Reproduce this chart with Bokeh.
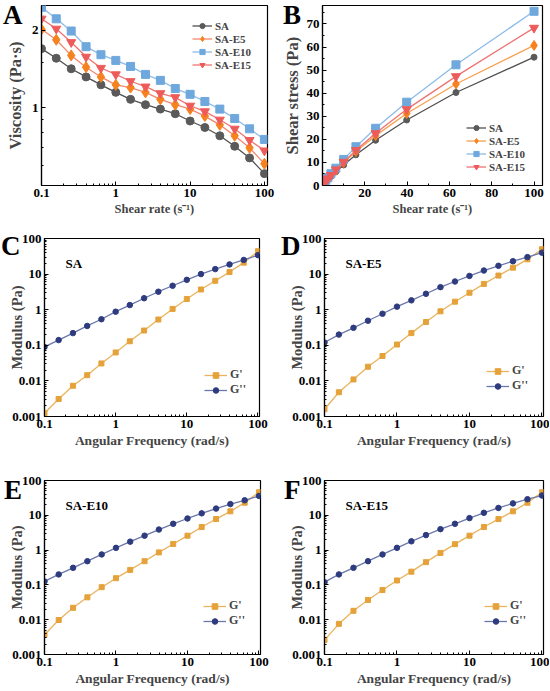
from bokeh.plotting import figure
from bokeh.layouts import row, column
from bokeh.models import (Range1d, FixedTicker, CustomJSTickFormatter, Label,
                          Legend, LegendItem, ColumnDataSource, Div)
from bokeh.embed import file_html
from bokeh.resources import INLINE

# ---------------- data ----------------
shear_rate = [0.1, 0.158, 0.251, 0.398, 0.631, 1, 1.58, 2.51, 3.98, 6.31,
              10, 15.8, 25.1, 39.8, 63.1, 100]

visc_SA = [1.70, 1.56, 1.42, 1.32, 1.23, 1.15, 1.08, 1.03, 0.99, 0.95,
           0.89, 0.84, 0.78, 0.71, 0.64, 0.556]
visc_E5 = [2.02, 1.84, 1.60, 1.44, 1.32, 1.23, 1.20, 1.15, 1.08, 1.03,
           0.99, 0.93, 0.86, 0.78, 0.70, 0.607]
visc_E10 = [2.46, 2.22, 1.99, 1.73, 1.61, 1.53, 1.45, 1.35, 1.28, 1.19,
            1.13, 1.06, 0.99, 0.91, 0.83, 0.755]
visc_E15 = [2.22, 2.03, 1.80, 1.58, 1.43, 1.35, 1.27, 1.21, 1.14, 1.10,
            1.02, 0.97, 0.90, 0.83, 0.75, 0.683]

stress_SA = [0.17, 0.25, 0.36, 0.53, 0.78, 1.15, 1.71, 2.6, 3.9, 6.0,
             8.9, 13.3, 19.6, 28.4, 40.3, 55.6]
stress_E5 = [0.20, 0.29, 0.40, 0.57, 0.83, 1.23, 1.90, 2.9, 4.3, 6.5,
             9.9, 14.7, 21.6, 31.2, 44.0, 60.7]
stress_E10 = [0.25, 0.35, 0.50, 0.69, 1.02, 1.53, 2.29, 3.39, 5.1, 7.5,
              11.3, 16.8, 24.8, 36.1, 52.3, 75.5]
stress_E15 = [0.22, 0.32, 0.45, 0.63, 0.90, 1.35, 2.01, 3.04, 4.5, 6.9,
              10.2, 15.3, 22.6, 33.0, 47.3, 68.3]

ang_freq = [0.1, 0.158, 0.251, 0.398, 0.631, 1, 1.58, 2.51, 3.98, 6.31,
            10, 15.8, 25.1, 39.8, 63.1, 100]

Gp_SA = [0.00124, 0.0031, 0.0073, 0.0145, 0.031, 0.063, 0.13, 0.26, 0.53, 1.05,
         2.0, 3.7, 6.5, 11.4, 21, 44]
Gpp_SA = [0.09, 0.14, 0.22, 0.35, 0.54, 0.88, 1.35, 2.1, 3.2, 4.7,
          6.9, 10, 13.8, 18.7, 25, 34]
Gp_E5 = [0.0016, 0.0048, 0.011, 0.025, 0.050, 0.105, 0.22, 0.45, 0.9, 1.68,
         3.0, 5.3, 9.1, 15.2, 26, 50]
Gpp_E5 = [0.12, 0.20, 0.31, 0.49, 0.77, 1.22, 1.83, 2.8, 4.3, 6.2,
          8.9, 12.6, 17.1, 23, 30, 40]
Gp_E10 = [0.0037, 0.0098, 0.022, 0.044, 0.086, 0.156, 0.27, 0.48, 0.86, 1.5,
          2.6, 4.6, 7.8, 13, 23, 46]
Gpp_E10 = [0.126, 0.20, 0.31, 0.48, 0.75, 1.16, 1.75, 2.6, 3.9, 5.7,
           8.1, 11.4, 15.6, 21, 27, 36]
Gp_E15 = [0.0026, 0.0076, 0.018, 0.037, 0.071, 0.134, 0.24, 0.45, 0.83, 1.48,
          2.6, 4.6, 7.8, 13, 23, 46]
Gpp_E15 = [0.12, 0.20, 0.31, 0.48, 0.75, 1.16, 1.79, 2.7, 4.0, 5.7,
           8.3, 11.8, 16.3, 22, 29, 37]

series_names = ["SA", "SA-E5", "SA-E10", "SA-E15"]
panel_letters = ["A", "B", "C", "D", "E", "F"]

# ---------------- style ----------------
FONT = "Liberation Serif"
C_SA = "#5a5a5a"
C_E5 = "#f5821f"
C_E10 = "#6fa8dc"
C_E15 = "#ee5b5b"
L_SA = "#505050"
L_E5_A = "#f4866f"
L_E5_B = "#f7a04e"
L_E10 = "#8cbbe8"
L_E15 = "#f07272"
C_GP = "#e5a23a"
L_GP = "#eab35c"
C_GPP = "#2e3b7e"
L_GPP = "#6c78ab"

log_major = [0.1, 1, 10, 100]
log_minor = [m * d for d in (0.1, 1, 10) for m in range(2, 10)]


def fmt():
    return CustomJSTickFormatter(code="return tick.toString();")


def make_fig(w, h, bl, br, bt, bb, xr, yr, xt, yt, xlab_size, ylab_size):
    p = figure(width=w, height=h, x_range=Range1d(*xr), y_range=Range1d(*yr),
               x_axis_type=xt, y_axis_type=yt, output_backend="svg",
               toolbar_location=None, min_border_left=bl, min_border_right=br,
               min_border_top=bt, min_border_bottom=bb)
    p.xgrid.visible = False
    p.ygrid.visible = False
    p.outline_line_color = "black"
    p.outline_line_width = 1.2
    p.background_fill_color = "white"
    for ax in p.axis:
        ax.axis_line_width = 1.2
        ax.major_tick_in = 4
        ax.major_tick_out = 0
        ax.minor_tick_in = 2
        ax.minor_tick_out = 0
        ax.major_label_text_font = FONT
        ax.major_label_text_font_style = "bold"
        ax.major_label_text_font_size = "13px"
        ax.major_label_text_color = "black"
        ax.major_label_standoff = 3
        ax.axis_label_text_font = FONT
        ax.axis_label_text_font_style = "bold"
        ax.axis_label_standoff = 2
    p.xaxis.axis_label_text_font_size = xlab_size
    p.yaxis.axis_label_text_font_size = ylab_size
    return p


def letter_div(letter, left, top):
    html = ('<span style="font-family:\'Liberation Serif\',serif;font-size:27px;'
            'font-weight:bold;line-height:0.8;color:black;">%s</span>' % letter)
    return Div(text=html, styles={
        "position": "absolute", "left": "%dpx" % left, "top": "%dpx" % top,
        "font-family": "'Liberation Serif', serif", "font-size": "27px",
        "font-weight": "bold", "line-height": "0.8", "color": "black",
        "z-index": "10", "margin": "0", "padding": "0"})


def style_legend(leg, loc, padding, font_size, lh, gw):
    leg.location = loc
    leg.margin = 0
    leg.padding = padding
    leg.background_fill_alpha = 0
    leg.border_line_color = None
    leg.label_text_font = FONT
    leg.label_text_font_style = "bold"
    leg.label_text_font_size = font_size
    leg.label_height = lh
    leg.glyph_height = lh
    leg.glyph_width = gw
    leg.label_standoff = 3
    leg.spacing = 0


def log_axes(p, x_major, x_minor, y_major, y_minor):
    p.xaxis.ticker = FixedTicker(ticks=x_major, minor_ticks=x_minor)
    p.xaxis.formatter = fmt()
    p.yaxis.ticker = FixedTicker(ticks=y_major, minor_ticks=y_minor)
    p.yaxis.formatter = fmt()


# ---------------- panel A ----------------
pa = make_fig(275, 225, 41, 8, 5, 40, (0.1, 110), (0.5, 2.5), "log", "log",
              "12.5px", "16.5px")
log_axes(pa, log_major, log_minor, [1, 2], [0.6, 0.7, 0.8, 0.9, 1.5])
pa.xaxis.axis_label = "Shear rate (s⁻¹)"
pa.yaxis.axis_label = "Viscosity (Pa·s)"
pa.yaxis.axis_label_standoff = 4
items = []
for name, ys, mc, lc, mk, sz in [
        ("SA", visc_SA, C_SA, L_SA, "circle", 8),
        ("SA-E5", visc_E5, C_E5, L_E5_A, "diamond", 11),
        ("SA-E10", visc_E10, C_E10, L_E10, "square", 8),
        ("SA-E15", visc_E15, C_E15, L_E15, "inverted_triangle", 9)]:
    src = ColumnDataSource(dict(x=shear_rate, y=ys))
    r1 = pa.line("x", "y", source=src, line_color=lc, line_width=1.3)
    r2 = pa.scatter("x", "y", source=src, marker=mk, size=sz,
                    fill_color=mc, line_color=mc)
    items.append(LegendItem(label=name, renderers=[r1, r2]))
leg = Legend(items=items)
style_legend(leg, (151, 114), 2, "11px", 13, 20)
pa.add_layout(leg)

# ---------------- panel B ----------------
pb = make_fig(274, 225, 47, 7, 5, 40, (0, 104), (0, 78), "linear", "linear",
              "12.5px", "16.5px")
pb.xaxis.ticker = FixedTicker(ticks=[20, 40, 60, 80, 100],
                              minor_ticks=[10, 30, 50, 70, 90])
pb.yaxis.ticker = FixedTicker(ticks=[0, 10, 20, 30, 40, 50, 60, 70],
                              minor_ticks=[5, 15, 25, 35, 45, 55, 65, 75])
pb.xaxis.axis_label = "Shear rate (s⁻¹)"
pb.yaxis.axis_label = "Shear stress (Pa)"
items = []
for name, ys, mc, lc, mk, sz in [
        ("SA", stress_SA, C_SA, L_SA, "circle", 6),
        ("SA-E5", stress_E5, C_E5, L_E5_B, "diamond", 10),
        ("SA-E10", stress_E10, C_E10, L_E10, "square", 8),
        ("SA-E15", stress_E15, C_E15, L_E15, "inverted_triangle", 9)]:
    src = ColumnDataSource(dict(x=shear_rate, y=ys))
    r1 = pb.line("x", "y", source=src, line_color=lc, line_width=1.3)
    r2 = pb.scatter("x", "y", source=src, marker=mk, size=sz,
                    fill_color=mc, line_color=mc)
    items.append(LegendItem(label=name, renderers=[r1, r2]))
leg = Legend(items=items)
style_legend(leg, (144, 12), 2, "11px", 13, 20)
pb.add_layout(leg)

# ---------------- panels C-F ----------------
mod_major = [0.001, 0.01, 0.1, 1, 10, 100]
mod_minor = [m * d for d in (0.001, 0.01, 0.1, 1, 10) for m in range(2, 10)]

specs = [
    # sample, G', G'', width, height, bl, br, bt, bb, legend loc
    (series_names[0], Gp_SA, Gpp_SA, 275, 235, 44, 16, 13, 44, (160, 19)),
    (series_names[1], Gp_E5, Gpp_E5, 274, 235, 49, 6, 13, 44, (162, 23)),
    (series_names[2], Gp_E10, Gpp_E10, 275, 230, 44, 15, 20, 36, (159, 26)),
    (series_names[3], Gp_E15, Gpp_E15, 274, 230, 49, 6, 20, 36, (160, 26)),
]
mod_figs = []
for sample, gp, gpp, w, h, bl, br, bt, bb, lloc in specs:
    p = make_fig(w, h, bl, br, bt, bb, (0.1, 105), (0.001, 100), "log", "log",
                 "13.5px", "14.5px")
    log_axes(p, log_major, log_minor, mod_major, mod_minor)
    p.xaxis.axis_label = "Angular Frequency (rad/s)"
    p.xaxis.axis_label_standoff = 2
    p.yaxis.axis_label = "Modulus (Pa)"
    p.yaxis.axis_label_standoff = -16
    src1 = ColumnDataSource(dict(x=ang_freq, y=gp))
    src2 = ColumnDataSource(dict(x=ang_freq, y=gpp))
    a1 = p.line("x", "y", source=src1, line_color=L_GP, line_width=1.3)
    a2 = p.scatter("x", "y", source=src1, marker="square", size=5,
                   fill_color=C_GP, line_color=C_GP)
    b1 = p.line("x", "y", source=src2, line_color=L_GPP, line_width=1.3)
    b2 = p.scatter("x", "y", source=src2, marker="circle", size=5.5,
                   fill_color=C_GPP, line_color=C_GPP)
    leg = Legend(items=[LegendItem(label="G'", renderers=[a1, a2]),
                        LegendItem(label="G''", renderers=[b1, b2])])
    style_legend(leg, lloc, 1, "12px", 14, 23)
    p.add_layout(leg)
    p.add_layout(Label(x=0.1, y=100, x_offset=21, y_offset=-25, text=sample,
                       text_font=FONT, text_font_style="bold",
                       text_font_size="13px", text_baseline="alphabetic",
                       text_color="black"))
    mod_figs.append(p)

# panel letters (page positions of the reference)
letter_pos = [(3, 5), (283, 5), (1, 236), (281, 236), (4, 480), (284, 480)]
divs = [letter_div(l, x, y) for l, (x, y) in zip(panel_letters, letter_pos)]

layout = column(row(pa, pb), row(mod_figs[0], mod_figs[1]),
                row(mod_figs[2], mod_figs[3]), *divs)

open("out.html", "w").write(file_html(layout, INLINE))
